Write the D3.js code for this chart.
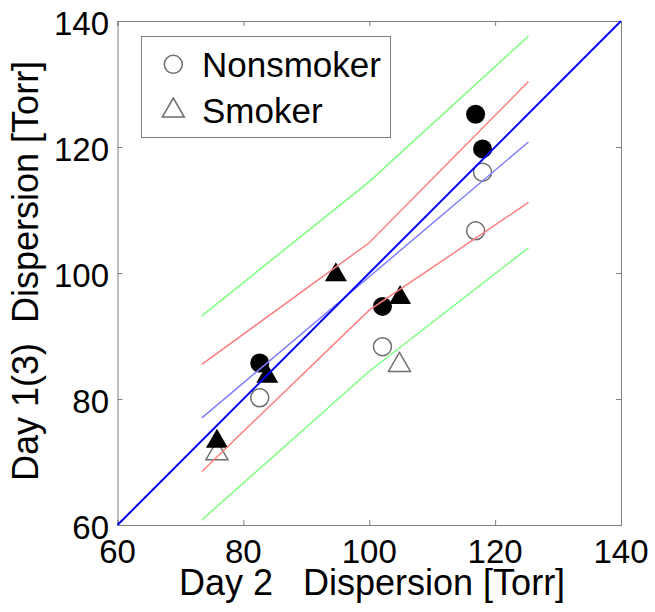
<!DOCTYPE html>
<html>
<head>
<meta charset="utf-8">
<script src="https://cdn.jsdelivr.net/npm/d3@7"></script>
<style>
    body { margin: 0; background: #fff; }
    text { font-family: 'Liberation Sans', Arial, sans-serif; fill: #000; white-space: pre; }
</style>
</head>
<body>
<div id="graph"></div>
<script>
// nonsmokers: day 2 vs day 1 (open) and day 3 (filled)
var nonsmokerDay2 = [82.6, 102.1, 116.9, 118.0];
var nonsmokerDay1 = [80.2, 88.3, 106.7, 116.0];
var nonsmokerDay3X = [82.6, 102.1, 116.9, 118.0];
var nonsmokerDay3 = [85.7, 94.7, 125.2, 119.7];

// smokers
var smokerDay2 = [75.8, 104.8];
var smokerDay1 = [71.8, 85.8];
var smokerDay3X = [75.8, 83.8, 94.7, 104.9];
var smokerDay3 = [73.7, 84.0, 100.1, 96.5];

// regression fit and bands
var bandX = [73.4, 100, 125.3];
var fitY = [77.0, 99.4, 120.8];
var ciUpper = [85.5, 104.8, 130.4];
var ciLower = [68.5, 94.1, 111.2];
var piUpper = [93.2, 114.5, 137.6];
var piLower = [60.8, 84.4, 104.0];
var identity = [60, 140];

var ticks = [60, 80, 100, 120, 140];

createSheet();

function createSheet() {
    var plotLeft = 117.5, plotRight = 621, plotTop = 21, plotBottom = 525;
    var grey = '#7f7f7f';
    var markGrey = '#6e6e6e';

    var svg = d3.select('#graph')
        .append('svg')
            .attr('width', 655)
            .attr('height', 612);

    var x = d3.scaleLinear().domain([60, 140]).range([plotLeft, plotRight]);
    var y = d3.scaleLinear().domain([60, 140]).range([plotBottom, plotTop]);

    // axes box with inward ticks on every side
    svg.append('g')
        .attr('transform', 'translate(0,' + plotBottom + ')')
        .call(d3.axisTop(x).tickValues(ticks).tickSize(5).tickFormat(''));
    svg.append('g')
        .attr('transform', 'translate(0,' + plotTop + ')')
        .call(d3.axisBottom(x).tickValues(ticks).tickSize(5).tickFormat(''));
    svg.append('g')
        .attr('transform', 'translate(' + plotLeft + ',0)')
        .call(d3.axisRight(y).tickValues(ticks).tickSize(5).tickFormat(''));
    svg.append('g')
        .attr('transform', 'translate(' + plotRight + ',0)')
        .call(d3.axisLeft(y).tickValues(ticks).tickSize(5).tickFormat(''));
    svg.selectAll('.domain, .tick line').attr('stroke', grey);

    // tick labels
    svg.append('g')
        .selectAll('text')
        .data(ticks).enter().append('text')
        .attr('x', d => x(d))
        .attr('y', 563)
        .attr('text-anchor', 'middle')
        .style('font-size', '33px')
        .text(d => d);
    svg.append('g')
        .selectAll('text')
        .data(ticks).enter().append('text')
        .attr('x', 109)
        .attr('y', d => y(d) + 13.5)
        .attr('text-anchor', 'end')
        .style('font-size', '33px')
        .text(d => d);

    // axis titles
    svg.append('text')
        .attr('x', 179).attr('y', 595)
        .style('font-size', '36px')
        .text('Day 2   Dispersion [Torr]');
    svg.append('text')
        .attr('transform', 'translate(38,481) rotate(-90)')
        .style('font-size', '36px')
        .text('Day 1(3)  Dispersion [Torr]');

    // markers
    var tri = 'M0,-10L11,9L-11,9Z';

    svg.append('g')
        .selectAll('circle')
        .data(nonsmokerDay3).enter().append('circle')
        .attr('cx', (d, i) => x(nonsmokerDay3X[i]))
        .attr('cy', d => y(d))
        .attr('r', 9.5)
        .style('fill', '#000');
    svg.append('g')
        .selectAll('circle')
        .data(nonsmokerDay1).enter().append('circle')
        .attr('cx', (d, i) => x(nonsmokerDay2[i]))
        .attr('cy', d => y(d))
        .attr('r', 9)
        .style('fill', 'none')
        .style('stroke', markGrey)
        .style('stroke-width', 1.5);
    svg.append('g')
        .selectAll('path')
        .data(smokerDay1).enter().append('path')
        .attr('d', tri)
        .attr('transform', (d, i) => 'translate(' + x(smokerDay2[i]) + ',' + y(d) + ')')
        .style('fill', 'none')
        .style('stroke', markGrey)
        .style('stroke-width', 1.5);
    svg.append('g')
        .selectAll('path')
        .data(smokerDay3).enter().append('path')
        .attr('d', tri)
        .attr('transform', (d, i) => 'translate(' + x(smokerDay3X[i]) + ',' + y(d) + ')')
        .style('fill', '#000');

    // fit, bands and identity line
    var line = d3.line()
        .x((d, i) => x(bandX[i]))
        .y(d => y(d));

    function addLine(vals, color, w) {
        svg.append('path')
            .datum(vals)
            .attr('d', line)
            .style('fill', 'none')
            .style('stroke', color)
            .style('stroke-width', w);
    }
    addLine(piUpper, '#7fff7f', 1.5);
    addLine(piLower, '#7fff7f', 1.5);
    addLine(ciUpper, '#ff7f7f', 1.5);
    addLine(ciLower, '#ff7f7f', 1.5);
    addLine(fitY, '#7f7fff', 1.5);

    svg.append('line')
        .attr('x1', x(identity[0])).attr('y1', y(identity[0]))
        .attr('x2', x(identity[1])).attr('y2', y(identity[1]))
        .style('stroke', '#0000ff')
        .style('stroke-width', 2);

    // LEGEND -----------------------------------------------------------------------------
    var legend = svg.append('g');
    legend.append('rect')
        .attr('x', 141.5).attr('y', 36.5)
        .attr('width', 249).attr('height', 101)
        .style('fill', '#fff')
        .style('stroke', grey);
    legend.append('circle')
        .attr('cx', 173.3).attr('cy', 64.3)
        .attr('r', 9)
        .style('fill', 'none')
        .style('stroke', markGrey)
        .style('stroke-width', 1.5);
    legend.append('path')
        .attr('d', tri)
        .attr('transform', 'translate(173.3,108)')
        .style('fill', 'none')
        .style('stroke', markGrey)
        .style('stroke-width', 1.5);
    legend.append('text')
        .attr('x', 202).attr('y', 76.5)
        .style('font-size', '35px')
        .text('Nonsmoker');
    legend.append('text')
        .attr('x', 202).attr('y', 123.3)
        .style('font-size', '35px')
        .text('Smoker');
}
</script>
</body>
</html>
